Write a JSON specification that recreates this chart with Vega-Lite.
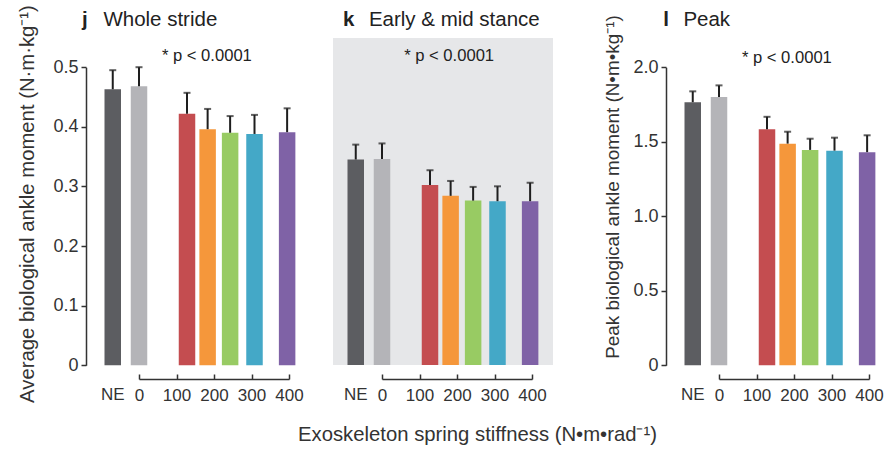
{
  "$schema": "https://vega.github.io/schema/vega-lite/v6.json",
  "background": "white",
  "padding": {"left": 16, "top": 4, "right": 0, "bottom": 0},
  "config": {
    "font": "Liberation Sans",
    "view": {"stroke": null},
    "axis": {"grid": false, "domainColor": "#333", "tickColor": "#333", "labelColor": "#333", "titleColor": "#333", "domainWidth": 1.5, "tickWidth": 1.5, "labelFontSize": 17, "titleFontSize": 20.3, "titleFontWeight": "normal", "labelFont": "Liberation Sans", "titleFont": "Liberation Sans", "labelFlush": false, "labelOverlap": false}
  },
  "datasets": {
    "rows": [
      {"panel": "j", "cond": "NE", "stiffness": -70, "mean": 0.463, "upper": 0.495},
      {"panel": "j", "cond": "0", "stiffness": 0, "mean": 0.468, "upper": 0.500},
      {"panel": "j", "cond": "128", "stiffness": 128, "mean": 0.422, "upper": 0.457},
      {"panel": "j", "cond": "183", "stiffness": 183, "mean": 0.396, "upper": 0.430},
      {"panel": "j", "cond": "243", "stiffness": 243, "mean": 0.390, "upper": 0.418},
      {"panel": "j", "cond": "308", "stiffness": 308, "mean": 0.388, "upper": 0.420},
      {"panel": "j", "cond": "395", "stiffness": 395, "mean": 0.391, "upper": 0.431},
      {"panel": "k", "cond": "NE", "stiffness": -70, "mean": 0.345, "upper": 0.370},
      {"panel": "k", "cond": "0", "stiffness": 0, "mean": 0.346, "upper": 0.372},
      {"panel": "k", "cond": "128", "stiffness": 128, "mean": 0.302, "upper": 0.327},
      {"panel": "k", "cond": "183", "stiffness": 183, "mean": 0.284, "upper": 0.309},
      {"panel": "k", "cond": "243", "stiffness": 243, "mean": 0.276, "upper": 0.299},
      {"panel": "k", "cond": "308", "stiffness": 308, "mean": 0.275, "upper": 0.300},
      {"panel": "k", "cond": "395", "stiffness": 395, "mean": 0.275, "upper": 0.306},
      {"panel": "l", "cond": "NE", "stiffness": -70, "mean": 1.765, "upper": 1.838},
      {"panel": "l", "cond": "0", "stiffness": 0, "mean": 1.800, "upper": 1.878},
      {"panel": "l", "cond": "128", "stiffness": 128, "mean": 1.583, "upper": 1.667},
      {"panel": "l", "cond": "183", "stiffness": 183, "mean": 1.487, "upper": 1.567},
      {"panel": "l", "cond": "243", "stiffness": 243, "mean": 1.445, "upper": 1.520},
      {"panel": "l", "cond": "308", "stiffness": 308, "mean": 1.440, "upper": 1.527},
      {"panel": "l", "cond": "395", "stiffness": 395, "mean": 1.430, "upper": 1.543}
    ]
  },
  "hconcat": [
    {
      "width": 215, "height": 327,
      "data": {"name": "rows"},
      "transform": [{"filter": "datum.panel == 'j'"}],
      "layer": [
        {"mark": {"type": "bar", "width": 16.5},
         "encoding": {
           "x": {"field": "stiffness", "type": "quantitative", "scale": {"domain": [0, 400], "range": [53, 203], "padding": 0},
                 "axis": {"values": [0, 100, 200, 300, 400], "title": null, "offset": 14, "tickSize": -5, "labelPadding": 13, "format": "d"}},
           "y": {"field": "mean", "type": "quantitative", "scale": {"domain": [0, 0.5], "range": [327.2, 29.2], "nice": false},
                 "axis": {"title": "Average biological ankle moment (N·m·kg⁻¹)", "values": [0, 0.1, 0.2, 0.3, 0.4, 0.5], "labelExpr": "datum.value == 0 ? '0' : format(datum.value, '.1f')", "labelFontSize": 18, "tickSize": 5, "labelPadding": 3, "titleAngle": -90, "titleAlign": "center", "titleBaseline": "alphabetic", "titleX": -53, "titleY": 165.5}},
           "color": {"field": "cond", "type": "nominal", "legend": null,
                     "scale": {"domain": ["NE", "0", "128", "183", "243", "308", "395"], "range": ["#5c5d61", "#b4b4b8", "#c44d50", "#f5973b", "#98cb63", "#44a8c7", "#7f62a6"]}}
         }},
        {"mark": {"type": "rule", "strokeWidth": 2, "color": "#1e1e1e"},
         "encoding": {"x": {"field": "stiffness", "type": "quantitative"}, "y": {"field": "mean", "type": "quantitative"}, "y2": {"field": "upper"}}},
        {"mark": {"type": "tick", "orient": "horizontal", "size": 7, "thickness": 2, "color": "#1e1e1e"},
         "encoding": {"x": {"field": "stiffness", "type": "quantitative"}, "y": {"field": "upper", "type": "quantitative"}}},
        {"transform": [{"filter": "datum.cond == 'NE'"}],
         "mark": {"type": "text", "baseline": "top", "dy": 22, "fontSize": 17, "color": "#333"},
         "encoding": {"x": {"field": "stiffness", "type": "quantitative"}, "y": {"datum": 0}, "text": {"field": "cond"}}},
        {"data": {"values": [{"note": "* p < 0.0001"}]},
         "mark": {"type": "text", "baseline": "alphabetic", "fontSize": 16.6, "color": "#222"},
         "encoding": {"x": {"datum": 181}, "y": {"datum": 0.51}, "text": {"field": "note"}}},
        {"data": {"values": [{"letter": "j"}]},
         "mark": {"type": "text", "align": "left", "baseline": "alphabetic", "fontSize": 20.5, "fontWeight": "bold", "color": "#222"},
         "encoding": {"x": {"datum": -152}, "y": {"datum": 0.5688}, "text": {"field": "letter"}}},
        {"data": {"values": [{"name": "Whole stride"}]},
         "mark": {"type": "text", "align": "left", "baseline": "alphabetic", "fontSize": 20.5, "color": "#222"},
         "encoding": {"x": {"datum": -95}, "y": {"datum": 0.5688}, "text": {"field": "name"}}}
      ]
    },
    {
      "width": 220, "height": 327,
      "view": {"fill": "#e6e7e9"},
      "data": {"name": "rows"},
      "transform": [{"filter": "datum.panel == 'k'"}],
      "layer": [
        {"mark": {"type": "bar", "width": 16.5},
         "encoding": {
           "x": {"field": "stiffness", "type": "quantitative", "scale": {"domain": [0, 400], "range": [49, 199], "padding": 0},
                 "axis": {"values": [0, 100, 200, 300, 400], "title": "Exoskeleton spring stiffness (N•m•rad⁻¹)", "offset": 14, "tickSize": -5, "labelPadding": 13, "format": "d", "titleX": 144, "titleY": 61.7, "titleBaseline": "alphabetic", "titleAlign": "center"}},
           "y": {"field": "mean", "type": "quantitative", "scale": {"domain": [0, 0.549], "nice": false}, "axis": null},
           "color": {"field": "cond", "type": "nominal", "legend": null,
                     "scale": {"domain": ["NE", "0", "128", "183", "243", "308", "395"], "range": ["#5c5d61", "#b4b4b8", "#c44d50", "#f5973b", "#98cb63", "#44a8c7", "#7f62a6"]}}
         }},
        {"mark": {"type": "rule", "strokeWidth": 2, "color": "#1e1e1e"},
         "encoding": {"x": {"field": "stiffness", "type": "quantitative"}, "y": {"field": "mean", "type": "quantitative"}, "y2": {"field": "upper"}}},
        {"mark": {"type": "tick", "orient": "horizontal", "size": 7, "thickness": 2, "color": "#1e1e1e"},
         "encoding": {"x": {"field": "stiffness", "type": "quantitative"}, "y": {"field": "upper", "type": "quantitative"}}},
        {"transform": [{"filter": "datum.cond == 'NE'"}],
         "mark": {"type": "text", "baseline": "top", "dy": 22, "fontSize": 17, "color": "#333"},
         "encoding": {"x": {"field": "stiffness", "type": "quantitative"}, "y": {"datum": 0}, "text": {"field": "cond"}}},
        {"data": {"values": [{"note": "* p < 0.0001"}]},
         "mark": {"type": "text", "baseline": "alphabetic", "fontSize": 16.6, "color": "#222"},
         "encoding": {"x": {"datum": 179}, "y": {"datum": 0.51}, "text": {"field": "note"}}},
        {"data": {"values": [{"letter": "k"}]},
         "mark": {"type": "text", "align": "left", "baseline": "alphabetic", "fontSize": 20.5, "fontWeight": "bold", "color": "#222"},
         "encoding": {"x": {"datum": -104}, "y": {"datum": 0.5688}, "text": {"field": "letter"}}},
        {"data": {"values": [{"name": "Early & mid stance"}]},
         "mark": {"type": "text", "align": "left", "baseline": "alphabetic", "fontSize": 20.5, "color": "#222"},
         "encoding": {"x": {"datum": -35}, "y": {"datum": 0.5688}, "text": {"field": "name"}}}
      ]
    },
    {
      "width": 296, "height": 327,
      "data": {"name": "rows"},
      "transform": [{"filter": "datum.panel == 'l'"}],
      "layer": [
        {"mark": {"type": "bar", "width": 16.5},
         "encoding": {
           "x": {"field": "stiffness", "type": "quantitative", "scale": {"domain": [0, 400], "range": [134, 284], "padding": 0},
                 "axis": {"values": [0, 100, 200, 300, 400], "title": null, "offset": 14, "tickSize": -5, "labelPadding": 13, "format": "d"}},
           "y": {"field": "mean", "type": "quantitative", "scale": {"domain": [0, 2], "range": [327.2, 29.2], "nice": false},
                 "axis": {"title": "Peak biological ankle moment (N•m•kg⁻¹)", "values": [0, 0.5, 1, 1.5, 2], "labelExpr": "datum.value == 0 ? '0' : format(datum.value, '.1f')", "labelFontSize": 18, "offset": -81, "tickSize": 5, "labelPadding": 3, "titleFontSize": 18.9, "titleAngle": -90, "titleAlign": "center", "titleBaseline": "alphabetic", "titleX": -48, "titleY": 148.5}},
           "color": {"field": "cond", "type": "nominal", "legend": null,
                     "scale": {"domain": ["NE", "0", "128", "183", "243", "308", "395"], "range": ["#5c5d61", "#b4b4b8", "#c44d50", "#f5973b", "#98cb63", "#44a8c7", "#7f62a6"]}}
         }},
        {"mark": {"type": "rule", "strokeWidth": 2, "color": "#1e1e1e"},
         "encoding": {"x": {"field": "stiffness", "type": "quantitative"}, "y": {"field": "mean", "type": "quantitative"}, "y2": {"field": "upper"}}},
        {"mark": {"type": "tick", "orient": "horizontal", "size": 7, "thickness": 2, "color": "#1e1e1e"},
         "encoding": {"x": {"field": "stiffness", "type": "quantitative"}, "y": {"field": "upper", "type": "quantitative"}}},
        {"transform": [{"filter": "datum.cond == 'NE'"}],
         "mark": {"type": "text", "baseline": "top", "dy": 22, "fontSize": 17, "color": "#333"},
         "encoding": {"x": {"field": "stiffness", "type": "quantitative"}, "y": {"datum": 0}, "text": {"field": "cond"}}},
        {"data": {"values": [{"note": "* p < 0.0001"}]},
         "mark": {"type": "text", "baseline": "alphabetic", "fontSize": 16.6, "color": "#222"},
         "encoding": {"x": {"datum": 181}, "y": {"datum": 2.025}, "text": {"field": "note"}}},
        {"data": {"values": [{"letter": "l"}]},
         "mark": {"type": "text", "align": "left", "baseline": "alphabetic", "fontSize": 20.5, "fontWeight": "bold", "color": "#222"},
         "encoding": {"x": {"datum": -149}, "y": {"datum": 2.275}, "text": {"field": "letter"}}},
        {"data": {"values": [{"name": "Peak"}]},
         "mark": {"type": "text", "align": "left", "baseline": "alphabetic", "fontSize": 20.5, "color": "#222"},
         "encoding": {"x": {"datum": -95}, "y": {"datum": 2.275}, "text": {"field": "name"}}}
      ]
    }
  ],
  "spacing": 32,
  "bounds": "flush"
}
